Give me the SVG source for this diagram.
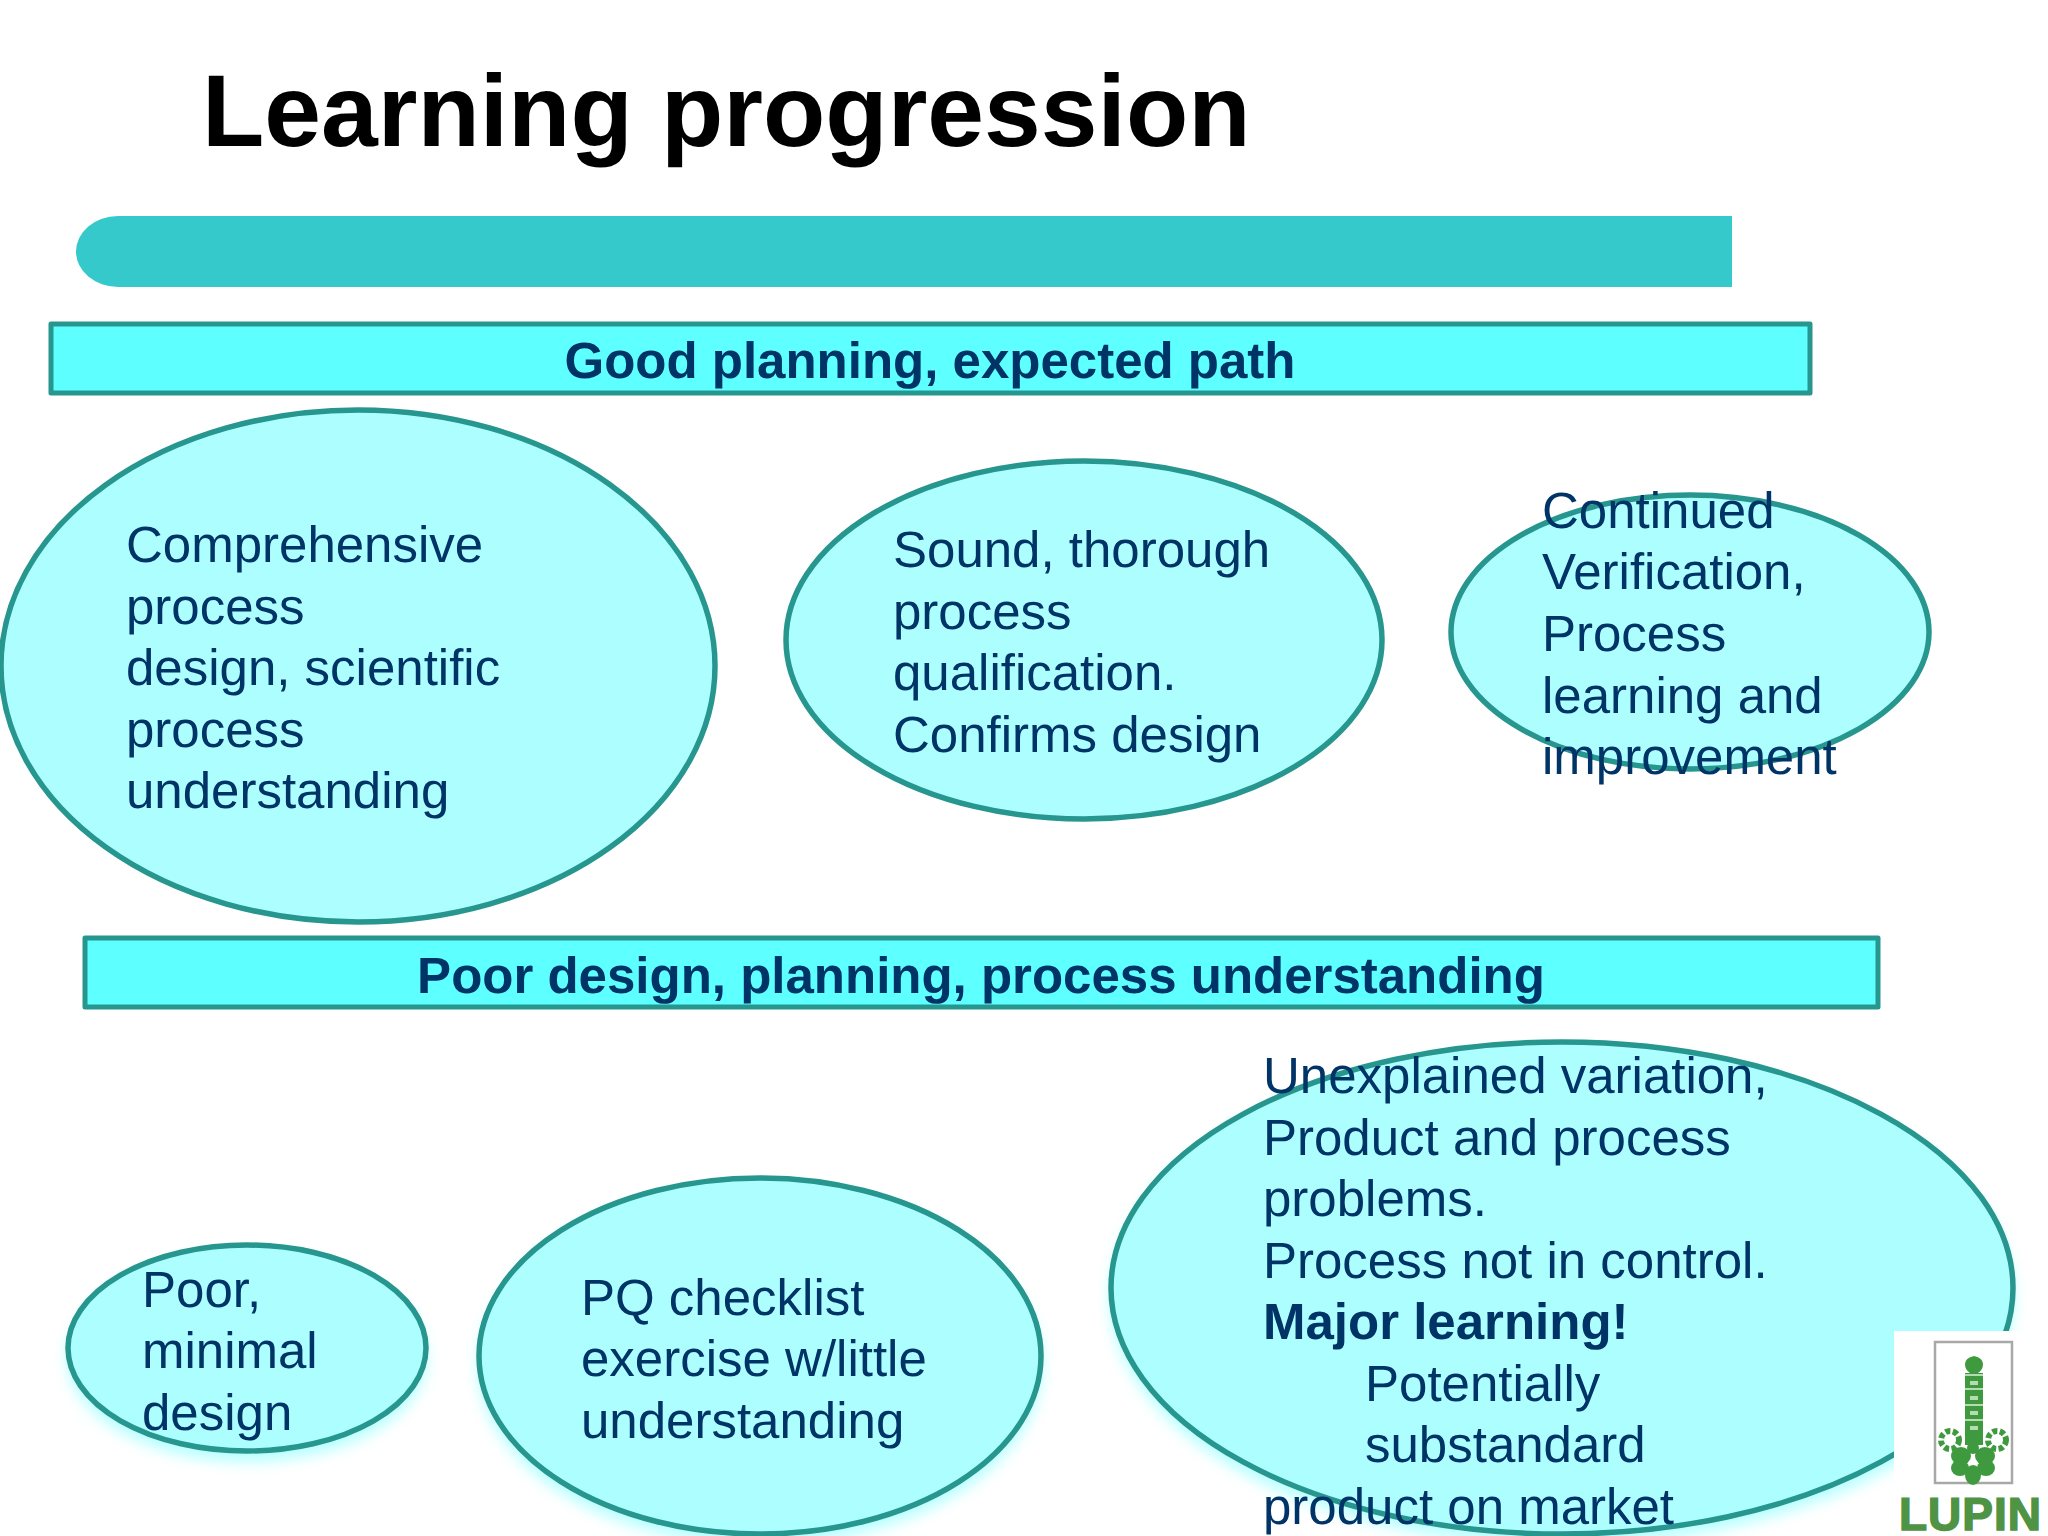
<svg xmlns="http://www.w3.org/2000/svg" width="2048" height="1536" viewBox="0 0 2048 1536">
<style>
text{font-family:"Liberation Sans",Arial,sans-serif;fill:#003366;text-rendering:geometricPrecision}
.b{font-size:51px}
.h{font-size:51px;font-weight:bold;text-anchor:middle}
.e{fill:#adffff;stroke:#26968f;stroke-width:5.500}
.r{fill:#5effff;stroke:#26968f;stroke-width:5;stroke-linejoin:round}
.g{fill:#3f9a3f}
.f{fill:none;stroke:#3f9a3f;stroke-width:6;stroke-dasharray:5 2.500}
.l{fill:#b5dcb0}
</style>
<defs><filter id="s" x="-10%" y="-10%" width="120%" height="125%"><feGaussianBlur stdDeviation="7"/></filter></defs>
<rect width="2048" height="1536" fill="#fff"/>
<text id="title" x="202" y="146" font-size="102" font-weight="bold" style="fill:#000">Learning progression</text>
<path id="bar" d="M1732 216H118a42 35.500 0 0 0 0 71H1732Z" fill="#35c9cc"/>
<g id="good"><rect class="r" x="51" y="324" width="1759" height="69"/><text class="h" x="930" y="378">Good planning, expected path</text></g>
<g id="n1"><ellipse class="e" cx="358" cy="666" rx="357" ry="256"/><text class="b"><tspan x="126" y="562">Comprehensive</tspan><tspan x="126" y="624">process</tspan><tspan x="126" y="685">design, scientific</tspan><tspan x="126" y="747">process</tspan><tspan x="126" y="808">understanding</tspan></text></g>
<g id="n2"><ellipse class="e" cx="1084" cy="640" rx="298" ry="179"/><text class="b"><tspan x="893" y="567">Sound, thorough</tspan><tspan x="893" y="629">process</tspan><tspan x="893" y="690">qualification.</tspan><tspan x="893" y="752">Confirms design</tspan></text></g>
<g id="n3"><ellipse class="e" cx="1690" cy="632" rx="239" ry="137"/><text class="b"><tspan x="1542" y="528">Continued</tspan><tspan x="1542" y="589">Verification,</tspan><tspan x="1542" y="651">Process</tspan><tspan x="1542" y="713">learning and</tspan><tspan x="1542" y="774">improvement</tspan></text></g>
<g id="poor"><rect class="r" x="85" y="938" width="1793" height="69"/><text class="h" x="981" y="993">Poor design, planning, process understanding</text></g>
<g id="n4"><ellipse cx="247" cy="1358" rx="180" ry="104" fill="#8ff" opacity=".6" filter="url(#s)"/><ellipse class="e" cx="247" cy="1348" rx="179" ry="103"/><text class="b"><tspan x="142" y="1307">Poor,</tspan><tspan x="142" y="1368">minimal</tspan><tspan x="142" y="1430">design</tspan></text></g>
<g id="n5"><ellipse cx="760" cy="1366" rx="282" ry="179" fill="#8ff" opacity=".6" filter="url(#s)"/><ellipse class="e" cx="760" cy="1356" rx="281" ry="178"/><text class="b"><tspan x="581" y="1315">PQ checklist</tspan><tspan x="581" y="1376">exercise w/little</tspan><tspan x="581" y="1438">understanding</tspan></text></g>
<g id="n6"><ellipse cx="1562" cy="1298" rx="452" ry="247" fill="#8ff" opacity=".6" filter="url(#s)"/><ellipse class="e" cx="1562" cy="1288" rx="451" ry="246"/><text class="b"><tspan x="1263" y="1093">Unexplained variation,</tspan><tspan x="1263" y="1155">Product and process</tspan><tspan x="1263" y="1216">problems.</tspan><tspan x="1263" y="1278">Process not in control.</tspan><tspan x="1263" y="1339" font-weight="bold">Major learning!</tspan><tspan x="1365" y="1401">Potentially</tspan><tspan x="1365" y="1462">substandard</tspan><tspan x="1263" y="1524">product on market</tspan></text></g>
<g id="logo"><rect x="1894" y="1331" width="154" height="205" fill="#fff"/><rect x="1935" y="1342" width="77" height="141" fill="none" stroke="#a8a8a8" stroke-width="2.500"/>
<path class="g" d="M1965 1364q0-6 9-8q9 2 9 8q0 6-5 9h5v72h-18v-72h5q-5-3-5-9Z"/>
<g class="l"><rect x="1970" y="1381" width="8" height="4"/><rect x="1970" y="1396" width="8" height="4"/><rect x="1970" y="1411" width="8" height="4"/><rect x="1970" y="1426" width="8" height="4"/><rect x="1965" y="1374" width="18" height="2"/><rect x="1965" y="1388" width="18" height="2"/><rect x="1965" y="1404" width="18" height="2"/><rect x="1965" y="1419" width="18" height="2"/></g>
<circle class="f" cx="1950" cy="1440" r="9"/><circle class="f" cx="1997" cy="1440" r="9"/>
<circle class="g" cx="1973" cy="1448" r="6"/><ellipse class="g" cx="1973" cy="1475" rx="8" ry="10"/><ellipse class="g" cx="1961" cy="1456" rx="10" ry="9"/><ellipse class="g" cx="1985" cy="1456" rx="10" ry="9"/><ellipse class="g" cx="1960" cy="1468" rx="9" ry="8"/><ellipse class="g" cx="1986" cy="1468" rx="9" ry="8"/>
<text x="1899" y="1530" font-size="46" font-weight="bold" stroke="#4f9345" stroke-width="1.500" letter-spacing="1" style="fill:#4f9345">LUPIN</text></g>
</svg>
